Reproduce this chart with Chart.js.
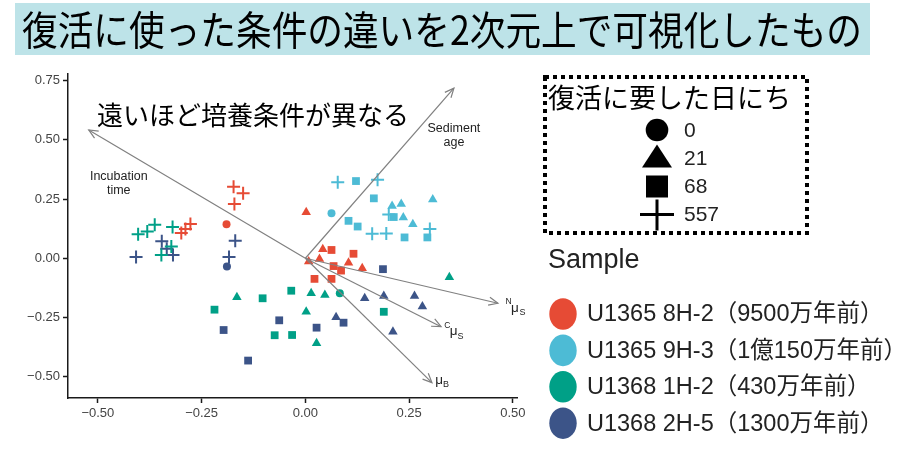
<!DOCTYPE html>
<html>
<head>
<meta charset="utf-8">
<script src="https://cdn.jsdelivr.net/npm/chart.js@4.4.1/dist/chart.umd.min.js"></script>
<style>
  html, body { margin: 0; padding: 0; background: #fff; }
  #wrap { position: relative; width: 900px; height: 449px; }
</style>
</head>
<body>
<div id="wrap"><canvas id="chart" width="900" height="449"></canvas></div>
<script>
// sample names and days needed for revival
const sampleNames = ['U1365 8H-2（9500万年前）', 'U1365 9H-3（1億150万年前）', 'U1368 1H-2（430万年前）', 'U1368 2H-5（1300万年前）'];
const dayLabels = ['0', '21', '68', '557'];

// U1365 8H-2
const a_day0 = [[-0.190, 0.144]];
const a_day21 = [[0.002, 0.194], [0.042, 0.038], [0.034, -0.003], [0.008, -0.014], [0.104, -0.019], [0.137, -0.042]];
const a_day68 = [[0.063, 0.035], [0.116, 0.019], [0.068, -0.033], [0.086, -0.052], [0.022, -0.087], [0.063, -0.087]];
const a_day557 = [[-0.173, 0.302], [-0.150, 0.274], [-0.171, 0.229], [-0.277, 0.145], [-0.289, 0.124], [-0.299, 0.107]];

// U1365 9H-3
const b_day0 = [[0.063, 0.190]];
const b_day21 = [[0.209, 0.221], [0.231, 0.229], [0.307, 0.248], [0.236, 0.172], [0.259, 0.144]];
const b_day68 = [[0.122, 0.326], [0.165, 0.253], [0.104, 0.158], [0.126, 0.134], [0.213, 0.174], [0.239, 0.088], [0.294, 0.088]];
const b_day557 = [[0.078, 0.321], [0.174, 0.331], [0.201, 0.185], [0.161, 0.103], [0.195, 0.105], [0.300, 0.124]];

// U1368 1H-2
const c_day0 = [[0.083, -0.148]];
const c_day21 = [[-0.165, -0.165], [0.014, -0.148], [0.047, -0.155], [0.002, -0.226], [0.027, -0.359], [0.347, -0.080]];
const c_day68 = [[-0.219, -0.217], [-0.103, -0.169], [-0.034, -0.137], [-0.074, -0.325], [-0.032, -0.324], [0.189, -0.226]];
const c_day557 = [[-0.403, 0.101], [-0.381, 0.113], [-0.363, 0.141], [-0.320, 0.132], [-0.347, 0.014], [-0.323, 0.050]];

// U1368 2H-5
const d_day0 = [[-0.189, -0.035]];
const d_day21 = [[0.143, -0.169], [0.189, -0.159], [0.263, -0.159], [0.282, -0.204], [0.074, -0.249], [0.211, -0.310]];
const d_day68 = [[-0.197, -0.303], [-0.063, -0.262], [-0.138, -0.432], [0.187, -0.046], [0.027, -0.293], [0.092, -0.272]];
const d_day557 = [[-0.408, 0.005], [-0.346, 0.072], [-0.334, 0.040], [-0.319, 0.014], [-0.169, 0.074], [-0.184, 0.005]];

// biplot vectors (from origin)
const vectorNames = ['Incubation time', 'Sediment age', 'NμS', 'CμS', 'μB'];
const vectorX = [-0.522, 0.358, 0.464, 0.327, 0.305];
const vectorY = [0.542, 0.718, -0.190, -0.289, -0.525];

const xTicks = [-0.5, -0.25, 0, 0.25, 0.5];
const yTicks = [-0.5, -0.25, 0, 0.25, 0.5, 0.75];

const sampleColors = ['#E64B35', '#4DBBD5', '#00A087', '#3C5488'];
const dayStyles = ['circle', 'triangle', 'rect', 'cross'];
const dayRadius = [4, 5.5, 5.5, 6.5];

const groups = [
  [a_day0, a_day21, a_day68, a_day557],
  [b_day0, b_day21, b_day68, b_day557],
  [c_day0, c_day21, c_day68, c_day557],
  [d_day0, d_day21, d_day68, d_day557]
];

const datasets = [];

// vectors first so they are drawn on top of the points
vectorNames.forEach((name, i) => {
  datasets.push({
    label: name,
    data: [{ x: 0, y: 0 }, { x: vectorX[i], y: vectorY[i] }],
    showLine: true,
    borderColor: '#808080',
    borderWidth: 1.2,
    pointRadius: 0
  });
});

groups.forEach((days, s) => {
  days.forEach((pts, d) => {
    const isCross = dayStyles[d] === 'cross';
    datasets.push({
      label: sampleNames[s] + ' / ' + dayLabels[d],
      data: pts.map(p => ({ x: p[0], y: p[1] })),
      pointStyle: dayStyles[d],
      pointRadius: dayRadius[d],
      pointHoverRadius: dayRadius[d],
      backgroundColor: sampleColors[s],
      borderColor: sampleColors[s],
      borderWidth: isCross ? 2 : 0
    });
  });
});

const jpFont = '"Noto Sans CJK JP", "Noto Sans", sans-serif';
const latinFont = '"Liberation Sans", Arial, "Noto Sans CJK JP", sans-serif';

// arrowheads, vector labels, title and legends
const overlayPlugin = {
  id: 'overlay',
  afterDraw(chart) {
    const ctx = chart.ctx;
    const xs = chart.scales.x, ys = chart.scales.y;
    ctx.save();

    // arrowheads
    const ox = xs.getPixelForValue(0), oy = ys.getPixelForValue(0);
    const tips = vectorX.map((v, i) => ({ x: xs.getPixelForValue(v), y: ys.getPixelForValue(vectorY[i]) }));
    ctx.strokeStyle = '#808080';
    ctx.lineWidth = 1.2;
    tips.forEach(t => {
      const a = Math.atan2(t.y - oy, t.x - ox);
      ctx.beginPath();
      ctx.moveTo(t.x - 10 * Math.cos(a - 0.42), t.y - 10 * Math.sin(a - 0.42));
      ctx.lineTo(t.x, t.y);
      ctx.lineTo(t.x - 10 * Math.cos(a + 0.42), t.y - 10 * Math.sin(a + 0.42));
      ctx.stroke();
    });

    // vector labels
    ctx.fillStyle = '#222';
    ctx.textAlign = 'center';
    ctx.textBaseline = 'middle';
    ctx.font = '12.5px ' + latinFont;
    ctx.fillText('Incubation', tips[0].x + 30, tips[0].y + 47);
    ctx.fillText('time', tips[0].x + 30, tips[0].y + 61);
    ctx.fillText('Sediment', tips[1].x, tips[1].y + 40);
    ctx.fillText('age', tips[1].x, tips[1].y + 54);

    ctx.textAlign = 'left';
    ctx.textBaseline = 'alphabetic';
    const sub = (t, parts) => {
      parts.forEach(p => {
        ctx.font = p[3] + 'px ' + latinFont;
        ctx.fillText(p[0], t.x + p[1], t.y + p[2]);
      });
    };
    sub(tips[2], [['N', 7.5, 1, 8.5], ['μ', 13, 9, 13.5], ['S', 21.5, 12, 9]]);
    sub(tips[3], [['C', 3.3, 1.6, 8.5], ['μ', 8.6, 8, 13.5], ['S', 16.5, 12, 9]]);
    sub(tips[4], [['μ', 3.3, 1.5, 13.5], ['B', 11, 4.5, 9]]);

    // title banner
    ctx.fillStyle = '#BDE3E8';
    ctx.fillRect(15, 3, 855, 52);
    ctx.fillStyle = '#000';
    ctx.textBaseline = 'middle';
    ctx.font = '40px ' + jpFont;
    ctx.fillText('復活に使った条件の違いを2次元上で可視化したもの', 22, 30, 840);

    // annotation
    ctx.font = '26px ' + jpFont;
    ctx.fillText('遠いほど培養条件が異なる', 97, 115);

    // day legend (dotted box)
    ctx.strokeStyle = '#000';
    ctx.lineWidth = 4;
    ctx.setLineDash([4, 4]);
    ctx.strokeRect(545, 77, 262, 156);
    ctx.setLineDash([]);
    ctx.font = '27px ' + jpFont;
    ctx.fillText('復活に要した日にち', 548, 98);

    const ly = [130, 158.5, 186.5, 214.5];
    const cx = 657;
    ctx.fillStyle = '#000';
    ctx.beginPath(); ctx.arc(cx, ly[0], 11.3, 0, Math.PI * 2); ctx.fill();
    ctx.beginPath(); ctx.moveTo(cx, ly[1] - 14); ctx.lineTo(cx + 15, ly[1] + 9); ctx.lineTo(cx - 15, ly[1] + 9); ctx.closePath(); ctx.fill();
    ctx.fillRect(cx - 11, ly[2] - 11, 22, 22);
    ctx.lineWidth = 3;
    ctx.beginPath();
    ctx.moveTo(cx - 17, ly[3]); ctx.lineTo(cx + 17, ly[3]);
    ctx.moveTo(cx, ly[3] - 15); ctx.lineTo(cx, ly[3] + 16);
    ctx.stroke();

    ctx.fillStyle = '#222';
    ctx.font = '21px ' + latinFont;
    dayLabels.forEach((d, i) => ctx.fillText(d, 684, ly[i] + 1));

    // sample legend
    ctx.font = '27px ' + latinFont;
    ctx.fillText('Sample', 548, 261);
    ctx.font = '23.5px ' + latinFont;
    sampleNames.forEach((name, i) => {
      const y = 314 + i * 36.4;
      ctx.fillStyle = sampleColors[i];
      ctx.beginPath();
      ctx.ellipse(563, y, 13.7, 15.8, 0, 0, Math.PI * 2);
      ctx.fill();
      ctx.fillStyle = '#222';
      ctx.fillText(name, 587, y + 1);
    });

    ctx.restore();
  }
};

const fmt = v => (v < 0 ? '\u2212' : '') + Math.abs(v).toFixed(2);

new Chart(document.getElementById('chart'), {
  type: 'scatter',
  data: { datasets: datasets },
  options: {
    responsive: false,
    animation: false,
    layout: { padding: { top: 74, right: 383, bottom: 21, left: 0 } },
    plugins: { legend: { display: false }, tooltip: { enabled: false } },
    scales: {
      x: {
        type: 'linear',
        min: -0.572,
        max: 0.51,
        afterBuildTicks: s => { s.ticks = xTicks.map(v => ({ value: v })); },
        afterFit: s => { s.height = 30; },
        border: { display: true, color: '#1a1a1a', width: 1.5 },
        grid: { drawOnChartArea: false, tickLength: 5, color: '#1a1a1a', tickWidth: 1.5 },
        ticks: { color: '#444', padding: 3, font: { family: 'Liberation Sans', size: 13 }, callback: fmt }
      },
      y: {
        type: 'linear',
        min: -0.59,
        max: 0.778,
        afterBuildTicks: s => { s.ticks = yTicks.map(v => ({ value: v })); },
        afterFit: s => { s.width = 68; },
        border: { display: true, color: '#1a1a1a', width: 1.5 },
        grid: { drawOnChartArea: false, tickLength: 5, color: '#1a1a1a', tickWidth: 1.5 },
        ticks: { color: '#444', padding: 3, font: { family: 'Liberation Sans', size: 13 }, callback: fmt }
      }
    }
  },
  plugins: [overlayPlugin]
});
</script>
</body>
</html>
